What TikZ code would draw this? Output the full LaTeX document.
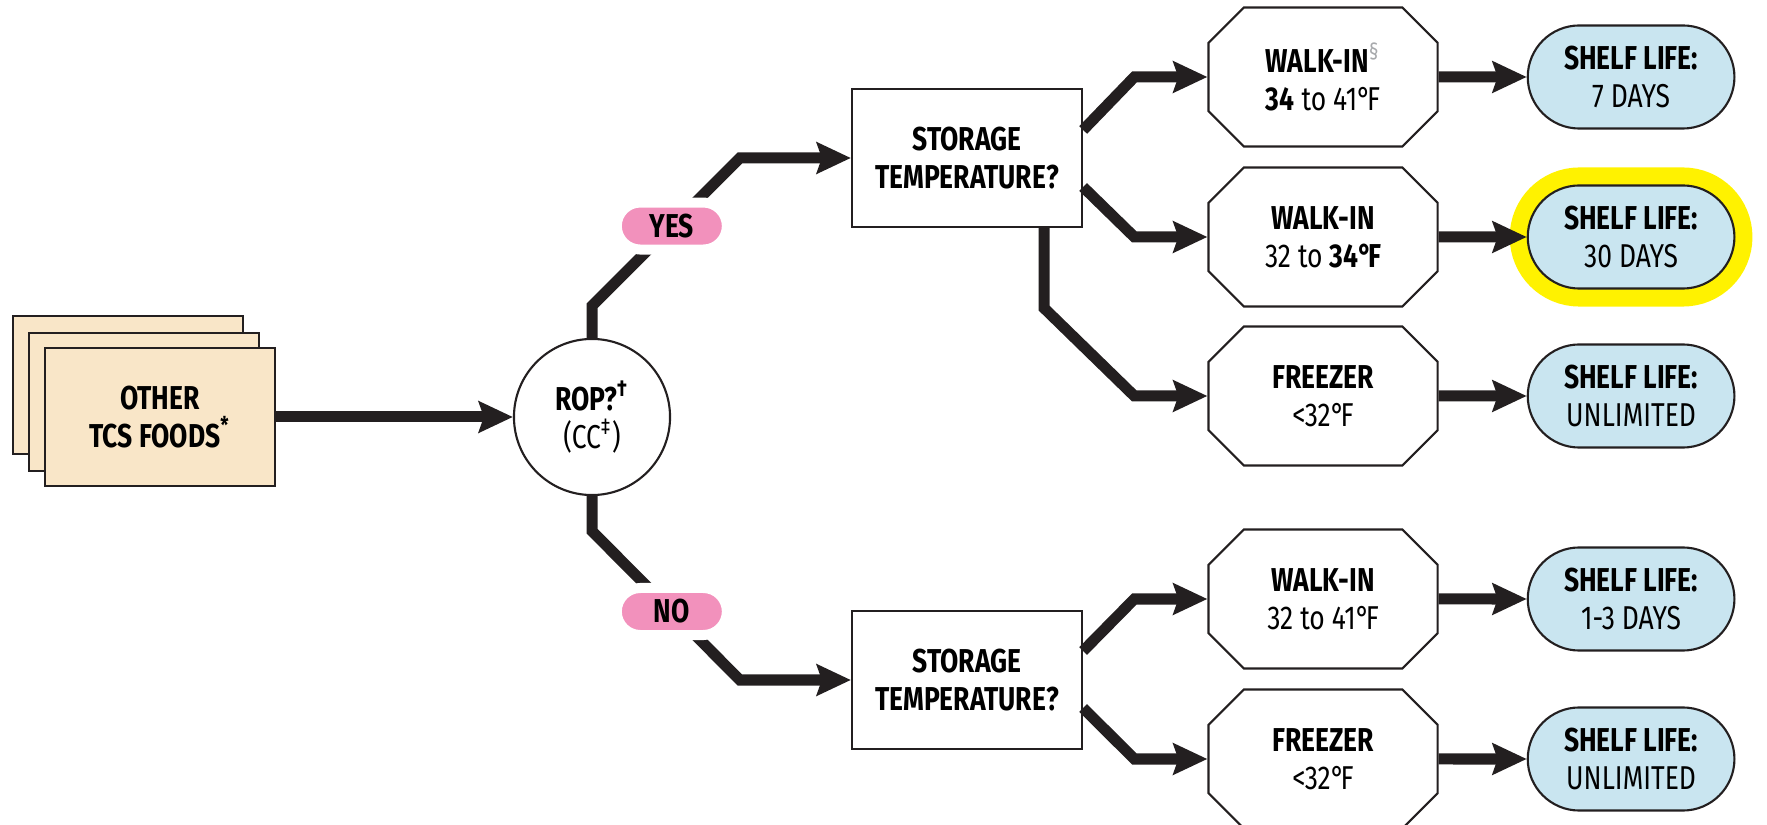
\documentclass[tikz,border=0pt]{standalone}
\usepackage{fontspec}
\setmainfont{Fira Sans}[FakeStretch=0.8]
\usetikzlibrary{arrows.meta,shapes.misc,positioning}
\definecolor{ink}{HTML}{231F20}
\definecolor{foodfill}{HTML}{F9E6C8}
\definecolor{pinkfill}{HTML}{F291BC}
\definecolor{lifefill}{HTML}{C9E5F0}
\definecolor{hiyellow}{HTML}{FFF200}
\definecolor{markgray}{HTML}{A7A9AC}
\newcommand\degF{°\kern-0.12em F}
\begin{document}
\begin{tikzpicture}[x=0.01cm,y=-0.01cm,line join=miter,
  font=\bfseries\fontsize{9.4}{10.8}\selectfont,
  >={Stealth[length=0.34cm,width=0.31cm,inset=0.05cm]},
  flow/.style={draw=ink,line width=0.11cm,->},
  foodbox/.style={draw=ink,line width=0.6pt,fill=foodfill,minimum width=2.3cm,minimum height=1.38cm,align=center},
  question/.style={draw=ink,line width=0.6pt,fill=white,minimum width=2.3cm,minimum height=1.38cm,align=center},
  decision/.style={circle,draw=ink,line width=0.6pt,fill=white,minimum size=1.56cm,inner sep=0pt,align=center},
  place/.style={chamfered rectangle,chamfered rectangle xsep=0.23cm,draw=ink,line width=0.6pt,fill=white,minimum width=2.29cm,minimum height=1.39cm,inner sep=0pt,align=center},
  shelf/.style={rounded rectangle,draw=ink,line width=0.6pt,fill=lifefill,minimum width=2.3cm,minimum height=1.03cm,align=center},
  highlight/.style={preaction={draw=hiyellow,line width=0.36cm}},
  answer/.style={rounded rectangle,draw=white,line width=0.1cm,fill=pinkfill,minimum width=1.1cm,minimum height=0.47cm,inner sep=0pt}]
\useasboundingbox (0,0) rectangle (1767,825);
\node[foodbox] (food3) at (128,385) {};
\node[foodbox] (food2) at (144,402) {};
\node[foodbox] (food) at (160,417) {OTHER\\TCS FOODS\textsuperscript{*}};
\node[decision] (rop) at (592,417) {ROP?\textsuperscript{†}\\\mdseries(CC\textsuperscript{‡})};
\node[question] (stor1) at (967,158) {STORAGE\\TEMPERATURE?};
\node[question] (stor2) at (967,680) {STORAGE\\TEMPERATURE?};
\node[place] (walk1) at (1323,77) {WALK-IN\textsuperscript{\color{markgray}\mdseries§}\\\mdseries\textbf{34} to 41\degF};
\node[place] (walk2) at (1323,237) {WALK-IN\\\mdseries 32 to \textbf{34\degF}};
\node[place] (freeze1) at (1323,396) {FREEZER\\\mdseries<32\degF};
\node[place] (walk3) at (1323,599) {WALK-IN\\\mdseries 32 to 41\degF};
\node[place] (freeze2) at (1323,759) {FREEZER\\\mdseries<32\degF};
\node[shelf,right=0.88cm of walk1] (life1) {SHELF LIFE:\\\mdseries 7 DAYS};
\node[shelf,highlight,right=0.88cm of walk2] (life2) {SHELF LIFE:\\\mdseries 30 DAYS};
\node[shelf,right=0.88cm of freeze1] (life3) {SHELF LIFE:\\\mdseries UNLIMITED};
\node[shelf,right=0.88cm of walk3] (life4) {SHELF LIFE:\\\mdseries 1-3 DAYS};
\node[shelf,right=0.88cm of freeze2] (life5) {SHELF LIFE:\\\mdseries UNLIMITED};
\draw[flow] (food) -- (rop);
\draw[flow] (rop.north) -- ++(0,-32) -- node[answer,pos=0.54] (yes) {YES} ([xshift=-1.11cm]stor1.west) -- (stor1.west);
\draw[flow] (rop.south) -- ++(0,35) -- node[answer,pos=0.54] (no) {NO} ([xshift=-1.11cm]stor2.west) -- (stor2.west);
\draw[flow] ([yshift=0.28cm]stor1.east) -- ([xshift=-0.73cm]walk1.west) -- (walk1.west);
\draw[flow] ([yshift=-0.29cm]stor1.east) -- ([xshift=-0.73cm]walk2.west) -- (walk2.west);
\draw[flow] ([xshift=0.77cm]stor1.south) -- ++(0,80) -- ([xshift=-0.73cm]freeze1.west) -- (freeze1.west);
\draw[flow] ([yshift=0.29cm]stor2.east) -- ([xshift=-0.73cm]walk3.west) -- (walk3.west);
\draw[flow] ([yshift=-0.28cm]stor2.east) -- ([xshift=-0.73cm]freeze2.west) -- (freeze2.west);
\foreach \a/\b in {walk1/life1,walk2/life2,freeze1/life3,walk3/life4,freeze2/life5}
  \draw[flow] (\a) -- (\b);
\end{tikzpicture}
\end{document}
